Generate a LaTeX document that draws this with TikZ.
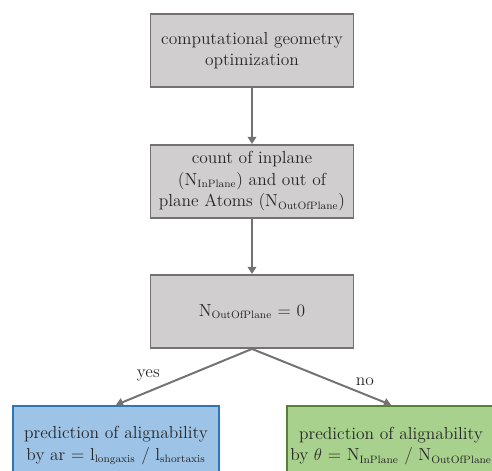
\documentclass[tikz,border=0pt]{standalone}
\usetikzlibrary{positioning,arrows.meta}

\definecolor{mGrayFill}{HTML}{D0CECE}
\definecolor{mGrayLine}{HTML}{767171}
\definecolor{mBlueFill}{HTML}{9DC3E6}
\definecolor{mBlueLine}{HTML}{2E75B6}
\definecolor{mGreenFill}{HTML}{A9D18E}
\definecolor{mGreenLine}{HTML}{548235}

\newcommand{\subtext}[1]{\textsubscript{\fontsize{7.6}{8}\selectfont #1}}

\tikzset{
  stepbox/.style={draw, line width=1.4pt, align=center, text=black!85,
    minimum width=5.075cm, minimum height=1.825cm, inner sep=2pt,
    font=\fontsize{12.4}{15.3}\selectfont},
  graybox/.style={stepbox, fill=mGrayFill, draw=mGrayLine},
  bluebox/.style={stepbox, fill=mBlueFill, draw=mBlueLine, minimum width=5.15cm, minimum height=2.0cm},
  greenbox/.style={stepbox, fill=mGreenFill, draw=mGreenLine, minimum width=5.15cm, minimum height=2.0cm},
  flowarrow/.style={draw=mGrayLine, line width=1.4pt,
    -{Triangle[length=5pt,width=6pt]}},
  branchlabel/.style={text=black!85, font=\fontsize{12.4}{15.3}\selectfont, inner sep=2pt}
}

\begin{document}
\begin{tikzpicture}

\clip (-6.3, 1.2625) rectangle (6.0, -10.4875);

\node[graybox] (optim) at (0, 0) {computational geometry\\optimization};

\node[graybox, below=1.4cm of optim] (count) {count of inplane\\(N\subtext{InPlane}) and out of\\plane Atoms (N\subtext{OutOfPlane})};

\node[graybox, below=1.375cm of count] (cond) {N\subtext{OutOfPlane} = 0};

\node[bluebox, below=1.4cm of cond, xshift=-3.4cm] (ratio) {prediction of alignability\\by ar = l\subtext{longaxis} / l\subtext{shortaxis}};

\node[greenbox, below=1.4cm of cond, xshift=3.475cm] (theta) {prediction of alignability\\by $\theta$ = N\subtext{InPlane} / N\subtext{OutOfPlane}};

\draw[flowarrow] (optim) -- (count);
\draw[flowarrow] (count) -- (cond);

\draw[flowarrow] (cond.south) -- node[branchlabel, pos=0.65, above left] {yes} (ratio.north);
\draw[flowarrow] (cond.south) -- node[branchlabel, pos=0.72, above right] {no} (theta.north);

\end{tikzpicture}
\end{document}
